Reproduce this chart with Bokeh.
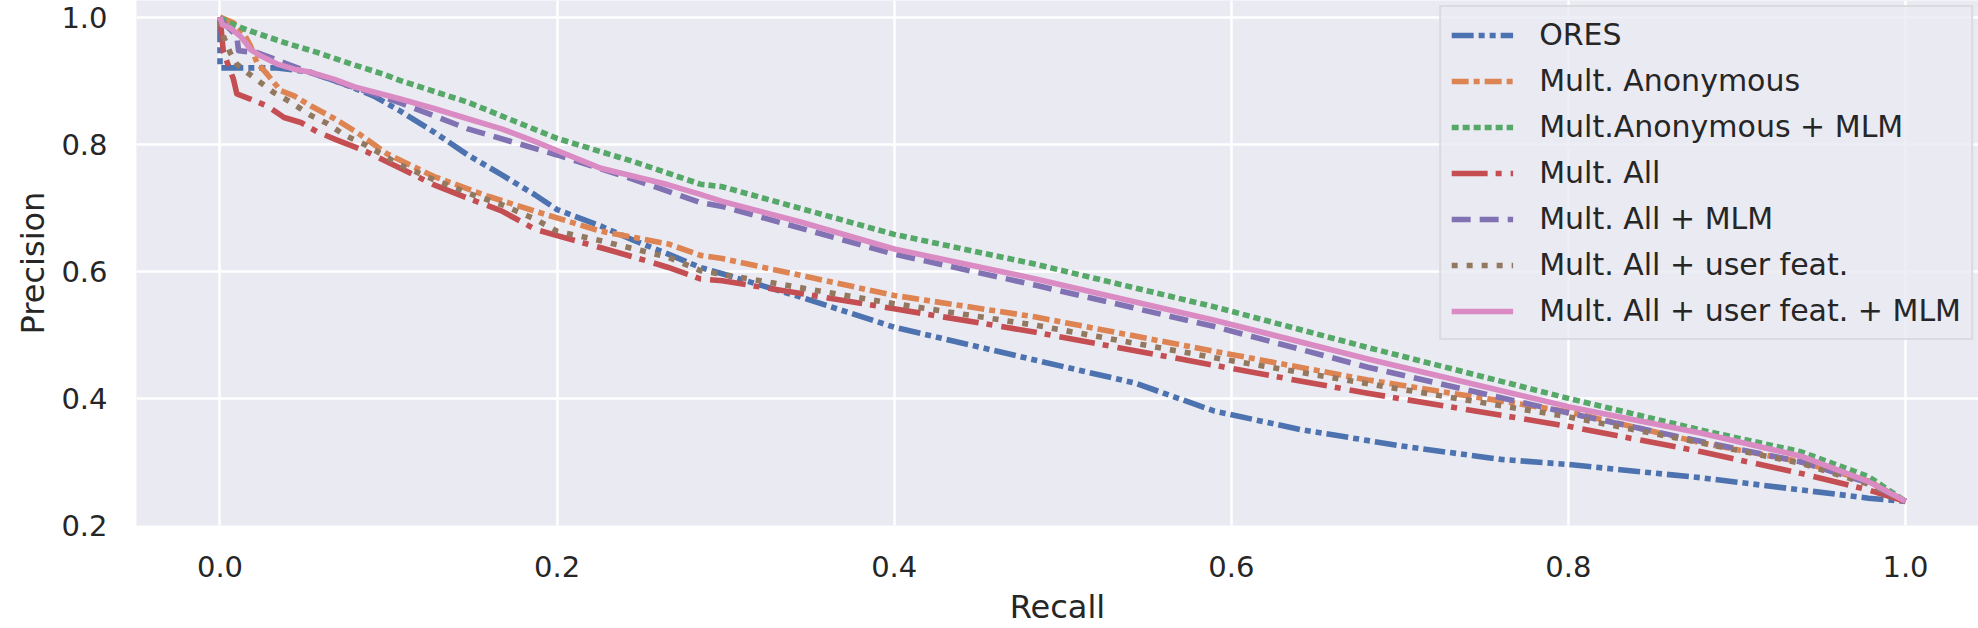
from bokeh.plotting import figure
from bokeh.embed import file_html
from bokeh.resources import INLINE
from bokeh.models import FixedTicker, PrintfTickFormatter, Range1d, Legend, LegendItem

# ---- data ----
ores_recall = [0.0, 0.0, 0.034, 0.054, 0.074, 0.091, 0.107, 0.127, 0.147, 0.167, 0.187, 0.2, 0.226, 0.246, 0.266, 0.285, 0.298, 0.345, 0.4, 0.484, 0.543, 0.59, 0.641, 0.701, 0.76, 0.8, 0.879, 0.938, 0.978, 1.0]
ores_prec = [0.995, 0.92, 0.92, 0.913, 0.894, 0.876, 0.852, 0.819, 0.783, 0.752, 0.72, 0.697, 0.671, 0.648, 0.627, 0.606, 0.596, 0.559, 0.512, 0.46, 0.424, 0.38, 0.351, 0.325, 0.304, 0.296, 0.275, 0.256, 0.243, 0.238]

anon_recall = [0.0, 0.008, 0.014, 0.018, 0.022, 0.028, 0.036, 0.044, 0.054, 0.068, 0.081, 0.099, 0.127, 0.159, 0.19, 0.206, 0.226, 0.246, 0.266, 0.285, 0.298, 0.4, 0.484, 0.59, 0.681, 0.8, 0.879, 0.938, 0.978, 1.0]
anon_prec = [1.0, 0.991, 0.975, 0.955, 0.928, 0.91, 0.884, 0.876, 0.86, 0.84, 0.819, 0.785, 0.749, 0.718, 0.692, 0.679, 0.663, 0.653, 0.643, 0.625, 0.62, 0.562, 0.528, 0.474, 0.429, 0.379, 0.33, 0.30, 0.27, 0.238]

anon_mlm_recall = [0.0, 0.008, 0.018, 0.038, 0.058, 0.078, 0.097, 0.107, 0.147, 0.2, 0.246, 0.285, 0.298, 0.4, 0.484, 0.59, 0.681, 0.8, 0.879, 0.938, 0.978, 1.0]
anon_mlm_prec = [0.999, 0.988, 0.978, 0.96, 0.944, 0.926, 0.91, 0.9, 0.866, 0.809, 0.772, 0.737, 0.733, 0.658, 0.611, 0.544, 0.48, 0.40, 0.35, 0.316, 0.277, 0.238]

all_recall = [0.0, 0.002, 0.008, 0.01, 0.018, 0.028, 0.038, 0.048, 0.058, 0.068, 0.087, 0.107, 0.127, 0.147, 0.167, 0.187, 0.2, 0.226, 0.246, 0.266, 0.285, 0.298, 0.4, 0.484, 0.59, 0.681, 0.8, 0.879, 0.938, 0.978, 1.0]
all_prec = [1.0, 0.945, 0.902, 0.879, 0.871, 0.86, 0.842, 0.834, 0.819, 0.808, 0.788, 0.762, 0.736, 0.715, 0.695, 0.666, 0.656, 0.637, 0.622, 0.606, 0.588, 0.585, 0.541, 0.504, 0.452, 0.408, 0.356, 0.316, 0.282, 0.256, 0.238]

all_mlm_recall = [0.0, 0.01, 0.011, 0.022, 0.038, 0.054, 0.107, 0.147, 0.2, 0.246, 0.285, 0.298, 0.4, 0.484, 0.59, 0.681, 0.8, 0.879, 0.938, 0.978, 1.0]
all_mlm_prec = [0.996, 0.97, 0.947, 0.944, 0.928, 0.912, 0.865, 0.824, 0.783, 0.744, 0.708, 0.702, 0.627, 0.578, 0.513, 0.449, 0.377, 0.332, 0.30, 0.267, 0.238]

user_recall = [0.0, 0.002, 0.006, 0.01, 0.016, 0.024, 0.032, 0.042, 0.054, 0.064, 0.074, 0.087, 0.107, 0.127, 0.147, 0.167, 0.187, 0.2, 0.226, 0.246, 0.266, 0.285, 0.4, 0.484, 0.59, 0.681, 0.8, 0.879, 0.938, 0.978, 1.0]
user_prec = [0.994, 0.97, 0.944, 0.926, 0.913, 0.897, 0.881, 0.866, 0.845, 0.832, 0.814, 0.798, 0.767, 0.744, 0.723, 0.705, 0.682, 0.663, 0.648, 0.635, 0.622, 0.601, 0.549, 0.515, 0.464, 0.423, 0.371, 0.33, 0.298, 0.265, 0.238]

user_mlm_recall = [0.0, 0.0014, 0.006, 0.012, 0.016, 0.018, 0.024, 0.034, 0.044, 0.054, 0.068, 0.081, 0.093, 0.107, 0.127, 0.147, 0.167, 0.187, 0.2, 0.226, 0.246, 0.266, 0.285, 0.298, 0.345, 0.4, 0.484, 0.59, 0.681, 0.8, 0.879, 0.938, 0.978, 1.0]
user_mlm_prec = [1.0, 0.988, 0.983, 0.97, 0.957, 0.949, 0.939, 0.926, 0.918, 0.913, 0.902, 0.889, 0.881, 0.871, 0.856, 0.84, 0.824, 0.804, 0.79, 0.762, 0.749, 0.736, 0.721, 0.71, 0.677, 0.635, 0.588, 0.523, 0.462, 0.387, 0.345, 0.309, 0.269, 0.238]

series_names = ["ORES", "Mult. Anonymous", "Mult.Anonymous + MLM", "Mult. All",
                "Mult. All + MLM", "Mult. All + user feat.", "Mult. All + user feat. + MLM"]
series_x = [ores_recall, anon_recall, anon_mlm_recall, all_recall, all_mlm_recall, user_recall, user_mlm_recall]
series_y = [ores_prec, anon_prec, anon_mlm_prec, all_prec, all_mlm_prec, user_prec, user_mlm_prec]
colors = ["#4C72B0", "#DD8452", "#55A868", "#C44E52", "#8172B3", "#937860", "#DA8BC3"]
dashes = ["22 5 6 5 6 5", "17 5 6 5", "7 4", "36 8 6 9", "19 9", "6 9", "solid"]

x_ticks = [0.0, 0.2, 0.4, 0.6, 0.8, 1.0]
y_ticks = [0.2, 0.4, 0.6, 0.8, 1.0]
x_title = "Recall"
y_title = "Precision"

FONT = "DejaVu Sans"
TXT = "#262626"

p = figure(width=1978, height=628, output_backend="svg", toolbar_location=None,
           x_range=Range1d(-0.04954, 1.04331), y_range=Range1d(0.2, 1.026),
           min_border_left=136, min_border_right=0, min_border_top=0, min_border_bottom=103)
p.background_fill_color = "#EAEAF2"
p.border_fill_color = "white"
p.outline_line_color = None

for ax, ticks in ((p.xaxis[0], x_ticks), (p.yaxis[0], y_ticks)):
    ax.ticker = FixedTicker(ticks=ticks)
    ax.formatter = PrintfTickFormatter(format="%.1f")
    ax.axis_line_color = None
    ax.major_tick_line_color = None
    ax.minor_tick_line_color = None
    ax.major_tick_out = 0
    ax.major_tick_in = 0
    ax.minor_tick_out = 0
    ax.minor_tick_in = 0
    ax.major_label_text_font = FONT
    ax.major_label_text_font_size = "29px"
    ax.major_label_text_color = TXT
    ax.axis_label_text_font = FONT
    ax.axis_label_text_font_size = "32px"
    ax.axis_label_text_font_style = "normal"
    ax.axis_label_text_color = TXT

p.xaxis.axis_label = x_title
p.yaxis.axis_label = y_title
p.xaxis.major_label_standoff = 30
p.xaxis.axis_label_standoff = 8
p.yaxis.major_label_standoff = 29
p.yaxis.axis_label_standoff = 6

p.xgrid.ticker = FixedTicker(ticks=x_ticks)
p.ygrid.ticker = FixedTicker(ticks=y_ticks)
for g in (p.xgrid[0], p.ygrid[0]):
    g.grid_line_color = "white"
    g.grid_line_width = 2.5

items = []
for name, xs, ys, c, d in zip(series_names, series_x, series_y, colors, dashes):
    r = p.line(xs, ys, line_color=c, line_width=5.6, line_dash=d, line_join="round")
    items.append(LegendItem(label=name, renderers=[r]))

legend = Legend(items=items, location="top_right", margin=5, padding=10,
                glyph_width=62, glyph_height=34, label_height=34, spacing=11,
                label_standoff=26,
                label_text_font=FONT, label_text_font_size="30px", label_text_color=TXT,
                background_fill_color="#EAEAF2", background_fill_alpha=0.8,
                border_line_color="#CCCCCC", border_line_width=2.5)
p.add_layout(legend, "center")

open("out.html", "w").write(file_html(p, INLINE))
